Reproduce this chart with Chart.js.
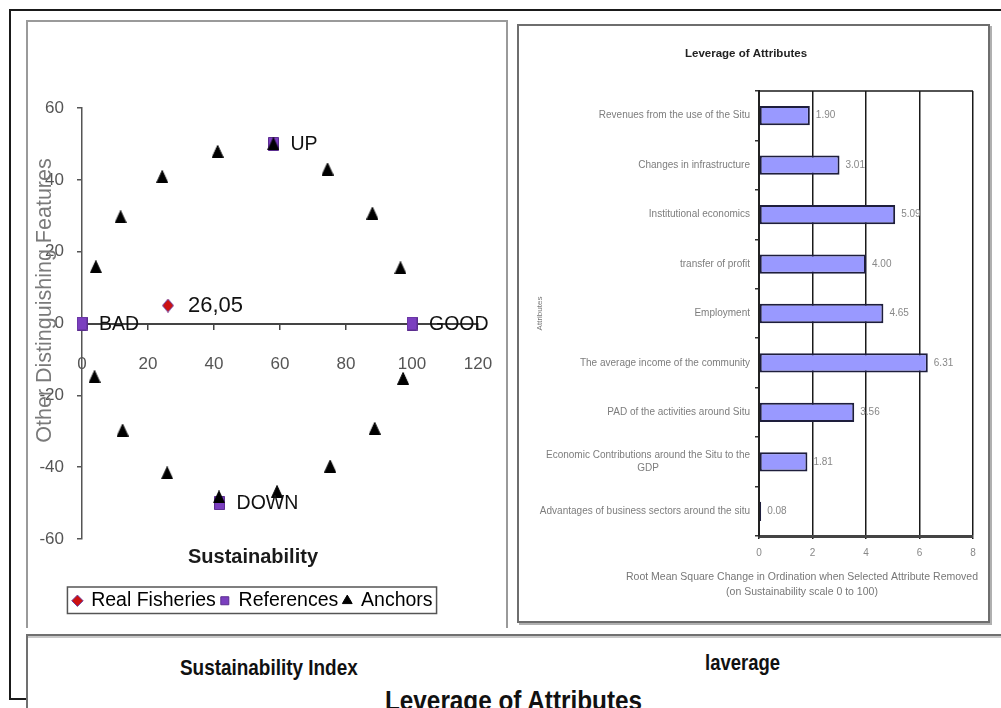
<!DOCTYPE html>
<html>
<head>
<meta charset="utf-8">
<title>Sustainability Index and Leverage of Attributes</title>
<script src="https://cdn.jsdelivr.net/npm/chart.js@4.4.1/dist/chart.umd.min.js"></script>
<style>
  html, body { margin: 0; padding: 0; background: #fff; }
  body { width: 1001px; height: 708px; position: relative; overflow: hidden;
         font-family: "Liberation Sans", Arial, sans-serif; }
  .line { position: absolute; background: #1a1a1a; }
  .panel { position: absolute; box-sizing: border-box; pointer-events: none; z-index: 2; }
  #leftPanel { left: 26px; top: 20px; width: 482px; height: 608px;
               border: 2px solid #9a9a9a; border-bottom: none; }
  #rightPanel { left: 517px; top: 24px; width: 473px; height: 599px;
                border: 2px solid #6e6e6e; box-shadow: 2px 2px 0 #b0b0b0; }
  #bottomPanel { left: 26px; top: 634px; width: 990px; height: 90px;
                 border-top: 2px solid #707070; border-left: 2px solid #707070;
                 box-shadow: 0 2px 0 #c8c8c8 inset; }
  canvas { position: absolute; z-index: 1; }
  #sustainChart { left: 28px; top: 22px; }
  #leverageChart { left: 519px; top: 26px; }
  .caption { position: absolute; font-weight: bold; color: #111; white-space: nowrap;
             transform-origin: left top; z-index: 3; }
</style>
</head>
<body>
  <div class="line" style="left:9px;top:9px;width:992px;height:2px;"></div>
  <div class="line" style="left:9px;top:9px;width:2px;height:691px;"></div>
  <div class="line" style="left:9px;top:698px;width:18px;height:2px;"></div>

  <canvas id="sustainChart" width="466" height="600"></canvas>
  <canvas id="leverageChart" width="468" height="594"></canvas>

  <div id="leftPanel" class="panel"></div>
  <div id="rightPanel" class="panel"></div>
  <div id="bottomPanel" class="panel"></div>

  <div class="caption" style="left:180px;top:655px;font-size:22px;transform:scaleX(0.86);">Sustainability Index</div>
  <div class="caption" style="left:705px;top:650px;font-size:22px;transform:scaleX(0.84);">laverage</div>
  <div class="caption" style="left:385px;top:686px;font-size:27px;transform:scaleX(0.9);">Leverage of Attributes</div>

<script>
// ---------- Sustainability ordination (scatter) ----------
const realFisheriesX = [26.05];
const realFisheriesY = [5];

const referenceNames = ['BAD', 'GOOD', 'UP', 'DOWN'];
const referenceX = [0, 100, 58, 41.7];
const referenceY = [0, 0, 50, -50];

const anchorX = [4.2, 11.7, 24.3, 41.1, 58, 74.4, 88, 96.5, 97.3, 88.7, 75.2, 59.1, 41.5, 25.8, 12.3, 3.8];
const anchorY = [15.8, 29.7, 40.9, 47.9, 50, 43, 30.7, 15.5, -15.3, -29.2, -39.7, -46.8, -48.3, -41.6, -29.7, -14.8];

const sustainXTicks = [0, 20, 40, 60, 80, 100, 120];
const sustainYTicks = [-60, -40, -20, 0, 20, 40, 60];

// ---------- Leverage of attributes (horizontal bars) ----------
const attributeNames = [
  'Revenues from the use of the Situ',
  'Changes in infrastructure',
  'Institutional economics',
  'transfer of profit',
  'Employment',
  'The average income of the community',
  'PAD of the activities around Situ',
  ['Economic Contributions around the Situ to the', 'GDP'],
  'Advantages of business sectors around the situ'
];
const leverageValues = [1.90, 3.01, 5.09, 4.00, 4.65, 6.31, 3.56, 1.81, 0.08];
const leverageTicks = [0, 2, 4, 6, 8];

const FONT = '"Liberation Sans", Arial, sans-serif';
const toPoints = (xs, ys) => xs.map((x, i) => ({ x: x, y: ys[i] }));
const fixedTicks = (list) => (scale) => { scale.ticks = list.map(v => ({ value: v })); };

// Slightly tall marker sprites for the plotted points
function marker(shape, w, h, fill, stroke) {
  const c = document.createElement('canvas');
  c.width = w; c.height = h;
  const g = c.getContext('2d');
  g.fillStyle = fill;
  g.strokeStyle = stroke;
  g.lineWidth = 1;
  g.beginPath();
  if (shape === 'triangle') {
    g.moveTo(w / 2, 0.5); g.lineTo(w - 0.5, h - 0.5); g.lineTo(0.5, h - 0.5);
  } else if (shape === 'diamond') {
    g.moveTo(w / 2, 0.5); g.lineTo(w - 0.5, h / 2); g.lineTo(w / 2, h - 0.5); g.lineTo(0.5, h / 2);
  } else {
    g.rect(0.5, 0.5, w - 1, h - 1);
  }
  g.closePath();
  g.fill();
  g.stroke();
  return c;
}
const diamondSprite = marker('diamond', 12, 14, '#cc1111', '#6b3fa0');
const squareSprite = marker('rect', 11, 14, '#7b3fbf', '#5b2d8f');
const triangleSprite = marker('triangle', 12, 13, '#000', '#000');
const legendStyles = ['rectRot', 'rect', 'triangle'];

// Text beside the reference points and the fishery score, the rotated y title and the legend frame
const sustainLabels = {
  id: 'sustainLabels',
  afterDatasetsDraw(chart) {
    const ctx = chart.ctx;
    ctx.save();
    ctx.fillStyle = '#111';
    ctx.textAlign = 'left';
    ctx.textBaseline = 'middle';
    ctx.font = '19.5px ' + FONT;
    chart.getDatasetMeta(1).data.forEach((pt, i) => {
      ctx.fillText(referenceNames[i], pt.x + 17, pt.y + 1);
    });
    ctx.font = '22px ' + FONT;
    chart.getDatasetMeta(0).data.forEach((pt, i) => {
      const txt = realFisheriesX[i].toFixed(2).replace('.', ',');
      ctx.fillText(txt, pt.x + 20, pt.y);
    });
    ctx.restore();
  },
  afterDraw(chart) {
    const ctx = chart.ctx;
    const ys = chart.scales.y;
    ctx.save();
    ctx.translate(ys.left + 17, (chart.chartArea.top + chart.chartArea.bottom) / 2 - 23);
    ctx.rotate(-Math.PI / 2);
    ctx.fillStyle = '#7a7a7a';
    ctx.font = '21.5px ' + FONT;
    ctx.textAlign = 'center';
    ctx.textBaseline = 'middle';
    ctx.fillText('Other Distinguishing Features', 0, 0);
    ctx.restore();

    const boxes = chart.legend.legendHitBoxes;
    if (boxes && boxes.length) {
      const l = Math.min(...boxes.map(b => b.left)) - 6;
      const r = Math.max(...boxes.map(b => b.left + b.width)) + 4;
      const t = Math.min(...boxes.map(b => b.top)) - 4;
      const btm = Math.max(...boxes.map(b => b.top + b.height)) + 3;
      ctx.save();
      ctx.strokeStyle = '#555';
      ctx.lineWidth = 1.5;
      ctx.strokeRect(l, t, r - l, btm - t);
      ctx.restore();
    }
  }
};

new Chart(document.getElementById('sustainChart'), {
  type: 'scatter',
  data: {
    datasets: [
      {
        label: 'Real Fisheries',
        data: toPoints(realFisheriesX, realFisheriesY),
        pointStyle: diamondSprite,
        backgroundColor: '#cc1111',
        borderColor: '#6b3fa0',
        borderWidth: 1,
        clip: false,
        order: 1
      },
      {
        label: 'References',
        data: toPoints(referenceX, referenceY),
        pointStyle: squareSprite,
        backgroundColor: '#7b3fbf',
        borderColor: '#5b2d8f',
        borderWidth: 1,
        clip: false,
        order: 2
      },
      {
        label: 'Anchors',
        data: toPoints(anchorX, anchorY),
        pointStyle: triangleSprite,
        backgroundColor: '#000',
        borderColor: '#000',
        borderWidth: 1,
        clip: false,
        order: 0
      }
    ]
  },
  options: {
    responsive: false,
    animation: false,
    devicePixelRatio: 1,
    layout: { padding: { left: 0, right: 16, top: 86, bottom: 1.5 } },
    scales: {
      x: {
        type: 'linear',
        position: { y: 0 },
        min: 0, max: 120,
        afterBuildTicks: fixedTicks(sustainXTicks),
        afterFit: (scale) => { scale.paddingLeft = 14; scale.paddingRight = 14; },
        grid: { drawOnChartArea: false, drawTicks: true, tickLength: 5, color: '#444', lineWidth: 1.5 },
        border: { color: '#444', width: 2 },
        ticks: { color: '#555', font: { family: FONT, size: 17 }, padding: 26, maxRotation: 0 }
      },
      y: {
        type: 'linear',
        position: 'left',
        min: -60, max: 60,
        afterBuildTicks: fixedTicks(sustainYTicks),
        afterFit: (scale) => { scale.width = 54; },
        grid: { drawOnChartArea: false, drawTicks: true, tickLength: 5, color: '#555', lineWidth: 1.5 },
        border: { color: '#555', width: 1.5 },
        ticks: { color: '#555', font: { family: FONT, size: 17 }, padding: 13 }
      }
    },
    plugins: {
      tooltip: { enabled: false },
      title: {
        display: true,
        position: 'bottom',
        text: 'Sustainability',
        color: '#1a1a1a',
        font: { family: FONT, size: 20, weight: 'bold' },
        padding: { top: 6, bottom: 17 },
        weight: 500
      },
      legend: {
        position: 'bottom',
        weight: 1000,
        labels: {
          usePointStyle: true,
          boxWidth: 8,
          boxHeight: 8,
          padding: 5,
          color: '#000',
          font: { family: FONT, size: 19.5 },
          sort: (a, b) => a.datasetIndex - b.datasetIndex,
          generateLabels: (chart) => {
            const items = Chart.defaults.plugins.legend.labels.generateLabels(chart);
            items.forEach(it => { it.pointStyle = legendStyles[it.datasetIndex]; });
            return items;
          }
        }
      }
    }
  },
  plugins: [sustainLabels]
});

// Category names, bar values, plot frame and axis caption for the bar chart
const leverageDecor = {
  id: 'leverageDecor',
  afterDatasetsDraw(chart) {
    const ctx = chart.ctx;
    const area = chart.chartArea;
    const ys = chart.scales.y;
    ctx.save();
    ctx.strokeStyle = '#1a1a1a';
    ctx.lineWidth = 1.5;
    ctx.beginPath();
    ctx.moveTo(area.left, area.top);
    ctx.lineTo(area.right, area.top);
    ctx.stroke();

    ctx.fillStyle = '#7d7d7d';
    ctx.font = '10px ' + FONT;
    ctx.textBaseline = 'middle';
    ctx.textAlign = 'center';
    const rightEdge = area.left - 9;
    attributeNames.forEach((name, i) => {
      const lines = Array.isArray(name) ? name : [name];
      const w = Math.max(...lines.map(s => ctx.measureText(s).width));
      const cy = ys.getPixelForTick(i);
      const lh = 13;
      lines.forEach((s, k) => {
        ctx.fillText(s, rightEdge - w / 2, cy + (k - (lines.length - 1) / 2) * lh);
      });
    });

    ctx.textAlign = 'left';
    ctx.fillStyle = '#888';
    chart.getDatasetMeta(0).data.forEach((bar, i) => {
      ctx.fillText(leverageValues[i].toFixed(2), bar.x + 6, bar.y);
    });

    ctx.textAlign = 'center';
    ctx.fillStyle = '#777';
    ctx.font = '10.5px ' + FONT;
    const cx = area.right - 171;
    ctx.fillText('Root Mean Square Change in Ordination when Selected Attribute Removed', cx, area.bottom + 41);
    ctx.fillText('(on Sustainability scale 0 to 100)', cx, area.bottom + 56);
    ctx.restore();
  }
};

new Chart(document.getElementById('leverageChart'), {
  type: 'bar',
  data: {
    labels: attributeNames,
    datasets: [{
      label: 'Leverage',
      data: leverageValues,
      backgroundColor: '#9999ff',
      borderColor: '#1e1e3c',
      borderWidth: 2,
      borderSkipped: false,
      categoryPercentage: 1,
      barPercentage: 0.39
    }]
  },
  options: {
    indexAxis: 'y',
    responsive: false,
    animation: false,
    devicePixelRatio: 1,
    layout: { padding: { left: 0, right: 14, top: 0, bottom: 54 } },
    scales: {
      x: {
        type: 'linear',
        position: 'bottom',
        min: 0, max: 8,
        afterBuildTicks: fixedTicks(leverageTicks),
        afterFit: (scale) => { scale.height = 30; },
        grid: { color: '#1a1a1a', lineWidth: 1.5, drawTicks: true, tickLength: 3 },
        border: { color: '#444', width: 3 },
        ticks: { color: '#888', font: { family: FONT, size: 10 }, padding: 8 }
      },
      y: {
        type: 'category',
        position: 'left',
        afterFit: (scale) => { scale.width = 240; },
        grid: { drawOnChartArea: false, drawTicks: true, tickLength: 4, color: '#333', lineWidth: 1.5 },
        border: { color: '#222', width: 2 },
        ticks: { display: false },
        title: {
          display: true,
          text: 'Attributes',
          color: '#777',
          font: { family: FONT, size: 8 },
          padding: { top: 16, bottom: 0 }
        }
      }
    },
    plugins: {
      tooltip: { enabled: false },
      legend: { display: false },
      title: {
        display: true,
        text: 'Leverage of Attributes',
        color: '#222',
        font: { family: FONT, size: 11.5, weight: 'bold' },
        padding: { top: 21, bottom: 30.2 }
      }
    }
  },
  plugins: [leverageDecor]
});
</script>
</body>
</html>
